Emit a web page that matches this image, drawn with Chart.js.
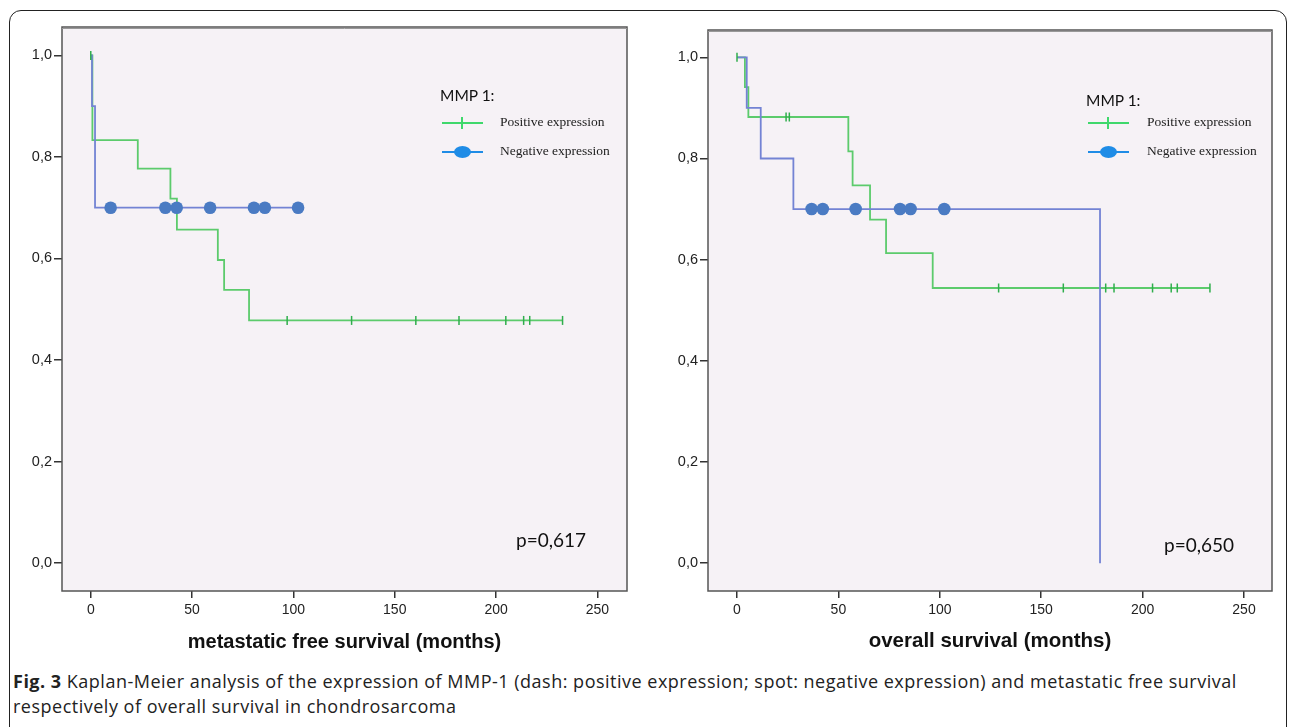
<!DOCTYPE html>
<html>
<head>
<meta charset="utf-8">
<script src="https://cdn.jsdelivr.net/npm/chart.js@4.4.1/dist/chart.umd.min.js"></script>
<style>
  html, body { margin: 0; padding: 0; background: #fff; width: 1295px; height: 727px; overflow: hidden; }
  #frame { position: absolute; left: 9px; top: 10px; width: 1276px; height: 740px; border: 1.5px solid #222; border-radius: 12px; }
  .plot { position: absolute; top: 0; }
  #mfsWrap { left: 0; width: 650px; height: 665px; }
  #osWrap { left: 650px; width: 645px; height: 665px; }
  .txt { position: absolute; white-space: nowrap; color: #111; }
  .head { font-family: Lato, "Open Sans", sans-serif; font-size: 15.5px; }
  .item { font-family: "Liberation Serif", serif; font-size: 13.5px; color: #222; }
  .pval { font-family: Lato, "Open Sans", sans-serif; font-size: 19px; }
  .sym { position: absolute; height: 2px; width: 41px; }
  .plus { position: absolute; width: 2px; height: 12px; background: #3fd86c; }
  .dot { position: absolute; width: 17px; height: 12px; border-radius: 50%; background: #1f8ce6; }
  #caption { position: absolute; left: 13px; top: 669px; font-family: "Open Sans", sans-serif; font-size: 18px; letter-spacing: 0.5px; line-height: 25px; color: #222; }
</style>
</head>
<body>
<div id="frame"></div>
<div class="plot" id="mfsWrap"><canvas id="mfsChart"></canvas></div>
<div class="plot" id="osWrap"><canvas id="osChart"></canvas></div>

<!-- legends and p-values -->
<div class="txt head" style="left:440px; top:86px;">MMP 1:</div>
<div class="sym" style="left:442px; top:122px; background:#3fd86c;"></div>
<div class="plus" style="left:461px; top:117px;"></div>
<div class="txt item" style="left:500px; top:114px;">Positive expression</div>
<div class="sym" style="left:442px; top:151px; background:#1f8ce6;"></div>
<div class="dot" style="left:454px; top:146px;"></div>
<div class="txt item" style="left:500px; top:143px;">Negative expression</div>
<div class="txt pval" style="left:516px; top:528px;">p=0,617</div>

<div class="txt head" style="left:1086px; top:91px;">MMP 1:</div>
<div class="sym" style="left:1088px; top:122px; background:#3fd86c;"></div>
<div class="plus" style="left:1107px; top:117px;"></div>
<div class="txt item" style="left:1147px; top:114px;">Positive expression</div>
<div class="sym" style="left:1088px; top:151px; background:#1f8ce6;"></div>
<div class="dot" style="left:1100px; top:146px;"></div>
<div class="txt item" style="left:1147px; top:143px;">Negative expression</div>
<div class="txt pval" style="left:1164px; top:533px;">p=0,650</div>

<div id="caption"><b>Fig. 3</b> Kaplan-Meier analysis of the expression of MMP-1 (dash: positive expression; spot: negative expression) and metastatic free survival<br>respectively of overall survival in chondrosarcoma</div>

<script>
// tick values and labels (shared by both plots)
const xTickValues = [0, 50, 100, 150, 200, 250];
const yTickValues = [0, 0.2, 0.4, 0.6, 0.8, 1.0];
const yTickLabels = ['0,0', '0,2', '0,4', '0,6', '0,8', '1,0'];

// metastatic free survival - positive expression (step curve)
const mfsPosTimes = [0, 0.8, 23.2, 39.3, 42.5, 62.7, 65.8, 78.1, 232.8];
const mfsPosSurv = [1.0, 0.833, 0.777, 0.718, 0.657, 0.597, 0.538, 0.478, 0.478];
// censored cases, positive
const mfsPosCensTimes = [0, 96.9, 128.7, 160.4, 181.7, 204.8, 213.6, 216.6, 232.8];
const mfsPosCensSurv = [1.0, 0.478, 0.478, 0.478, 0.478, 0.478, 0.478, 0.478, 0.478];
// metastatic free survival - negative expression
const mfsNegTimes = [0, 0.6, 2.1, 102.5];
const mfsNegSurv = [1.0, 0.9, 0.70, 0.70];
const mfsNegCensTimes = [9.8, 36.8, 42.4, 58.9, 80.5, 85.9, 102.3];
const mfsNegCensSurv = [0.70, 0.70, 0.70, 0.70, 0.70, 0.70, 0.70];

// overall survival - positive expression
const osPosTimes = [0, 3.9, 5.6, 54.9, 57.0, 65.6, 73.5, 96.5, 233.2];
const osPosSurv = [1.0, 0.941, 0.882, 0.814, 0.747, 0.679, 0.613, 0.544, 0.544];
const osPosCensTimes = [0, 24.2, 25.8, 129.0, 160.9, 181.8, 185.9, 204.9, 214.1, 217.1, 233.2];
const osPosCensSurv = [1.0, 0.882, 0.882, 0.544, 0.544, 0.544, 0.544, 0.544, 0.544, 0.544, 0.544];
// overall survival - negative expression
const osNegTimes = [0, 4.8, 11.7, 27.8, 179.0];
const osNegSurv = [1.0, 0.9, 0.8, 0.70, 0.0];
const osNegCensTimes = [36.8, 42.3, 58.5, 80.4, 85.6, 102.2];
const osNegCensSurv = [0.70, 0.70, 0.70, 0.70, 0.70, 0.70];

const greenLine = '#5ccb6c';
const greenMark = '#2fae4c';
const blueLine = '#7383d4';
const blueDot = '#4a7bc3';

function toPoints(xs, ys) {
    return xs.map((x, i) => ({ x: x, y: ys[i] }));
}

// background and frame of the plot area
const boxPlugin = {
    id: 'box',
    beforeDraw(chart) {
        const a = chart.chartArea;
        const c = chart.ctx;
        c.save();
        c.fillStyle = '#f6f2f6';
        c.fillRect(a.left, a.top, a.right - a.left, a.bottom - a.top);
        c.restore();
    },
    afterDraw(chart) {
        const a = chart.chartArea;
        const c = chart.ctx;
        c.save();
        c.strokeStyle = '#555';
        c.lineWidth = 1.5;
        c.strokeRect(a.left, a.top, a.right - a.left, a.bottom - a.top);
        c.strokeStyle = '#999';
        c.lineWidth = 1;
        c.beginPath();
        c.moveTo(a.left, a.top + 1.5);
        c.lineTo(a.right, a.top + 1.5);
        c.stroke();
        c.restore();
    }
};

function makeChart(canvasId, cfg) {
    // stepped 'before': horizontal first, then the drop (Kaplan-Meier style)
    const datasets = [
        { data: toPoints(cfg.negCensT, cfg.negCensS), pointStyle: 'circle', pointRadius: 6.3,
          backgroundColor: blueDot, borderWidth: 0, showLine: false, order: 0 },
        { data: toPoints(cfg.posCensT, cfg.posCensS), pointStyle: 'line', rotation: 90, pointRadius: 4.5,
          borderColor: greenMark, borderWidth: 1.5, showLine: false, order: 1 },
        { data: toPoints(cfg.negT, cfg.negS), showLine: true, stepped: 'before', pointRadius: 0,
          borderColor: blueLine, borderWidth: 1.8, order: 2 },
        { data: toPoints(cfg.posT, cfg.posS), showLine: true, stepped: 'before', pointRadius: 0,
          borderColor: greenLine, borderWidth: 1.8, order: 3 }
    ];
    return new Chart(document.getElementById(canvasId), {
        type: 'scatter',
        data: { datasets: datasets },
        plugins: [boxPlugin],
        options: {
            responsive: true,
            maintainAspectRatio: false,
            animation: false,
            layout: { padding: { left: 0, top: cfg.top, right: cfg.right, bottom: 0 } },
            plugins: { legend: { display: false }, tooltip: { enabled: false } },
            scales: {
                x: {
                    type: 'linear',
                    min: cfg.xMin, max: cfg.xMax,
                    afterBuildTicks: s => { s.ticks = xTickValues.map(v => ({ value: v })); },
                    afterFit: s => { s.height = 74; },
                    grid: { drawOnChartArea: false, tickLength: 7, color: '#333', lineWidth: 1.5 },
                    border: { display: false },
                    ticks: { color: '#222', padding: 4, font: { family: 'Liberation Sans', size: 14 } },
                    title: {
                        display: true, text: cfg.xTitle, color: '#111',
                        font: { family: 'Liberation Sans', size: cfg.titleSize, weight: 'bold' },
                        padding: { top: 0, bottom: 11 }
                    }
                },
                y: {
                    type: 'linear',
                    min: cfg.yMin, max: cfg.yMax,
                    afterBuildTicks: s => { s.ticks = yTickValues.map(v => ({ value: v })); },
                    afterFit: s => { s.width = cfg.yWidth; },
                    grid: { drawOnChartArea: false, tickLength: 8, color: '#333', lineWidth: 1.5 },
                    border: { display: false },
                    ticks: {
                        color: '#222', padding: 2, font: { family: 'Liberation Sans', size: 14.5 },
                        callback: v => yTickLabels[yTickValues.findIndex(t => Math.abs(t - v) < 1e-6)]
                    }
                }
            }
        }
    });
}

makeChart('mfsChart', {
    posT: mfsPosTimes, posS: mfsPosSurv, posCensT: mfsPosCensTimes, posCensS: mfsPosCensSurv,
    negT: mfsNegTimes, negS: mfsNegSurv, negCensT: mfsNegCensTimes, negCensS: mfsNegCensSurv,
    xTitle: 'metastatic free survival (months)', titleSize: 20,
    xMin: -14.2, xMax: 264.6, yMin: -0.055, yMax: 1.056,
    top: 27, right: 23, yWidth: 62
});

makeChart('osChart', {
    posT: osPosTimes, posS: osPosSurv, posCensT: osPosCensTimes, posCensS: osPosCensSurv,
    negT: osNegTimes, negS: osNegSurv, negCensT: osNegCensTimes, negCensS: osNegCensSurv,
    xTitle: 'overall survival (months)', titleSize: 20.5,
    xMin: -14.3, xMax: 263.8, yMin: -0.055, yMax: 1.054,
    top: 30, right: 23, yWidth: 58
});
</script>
</body>
</html>
